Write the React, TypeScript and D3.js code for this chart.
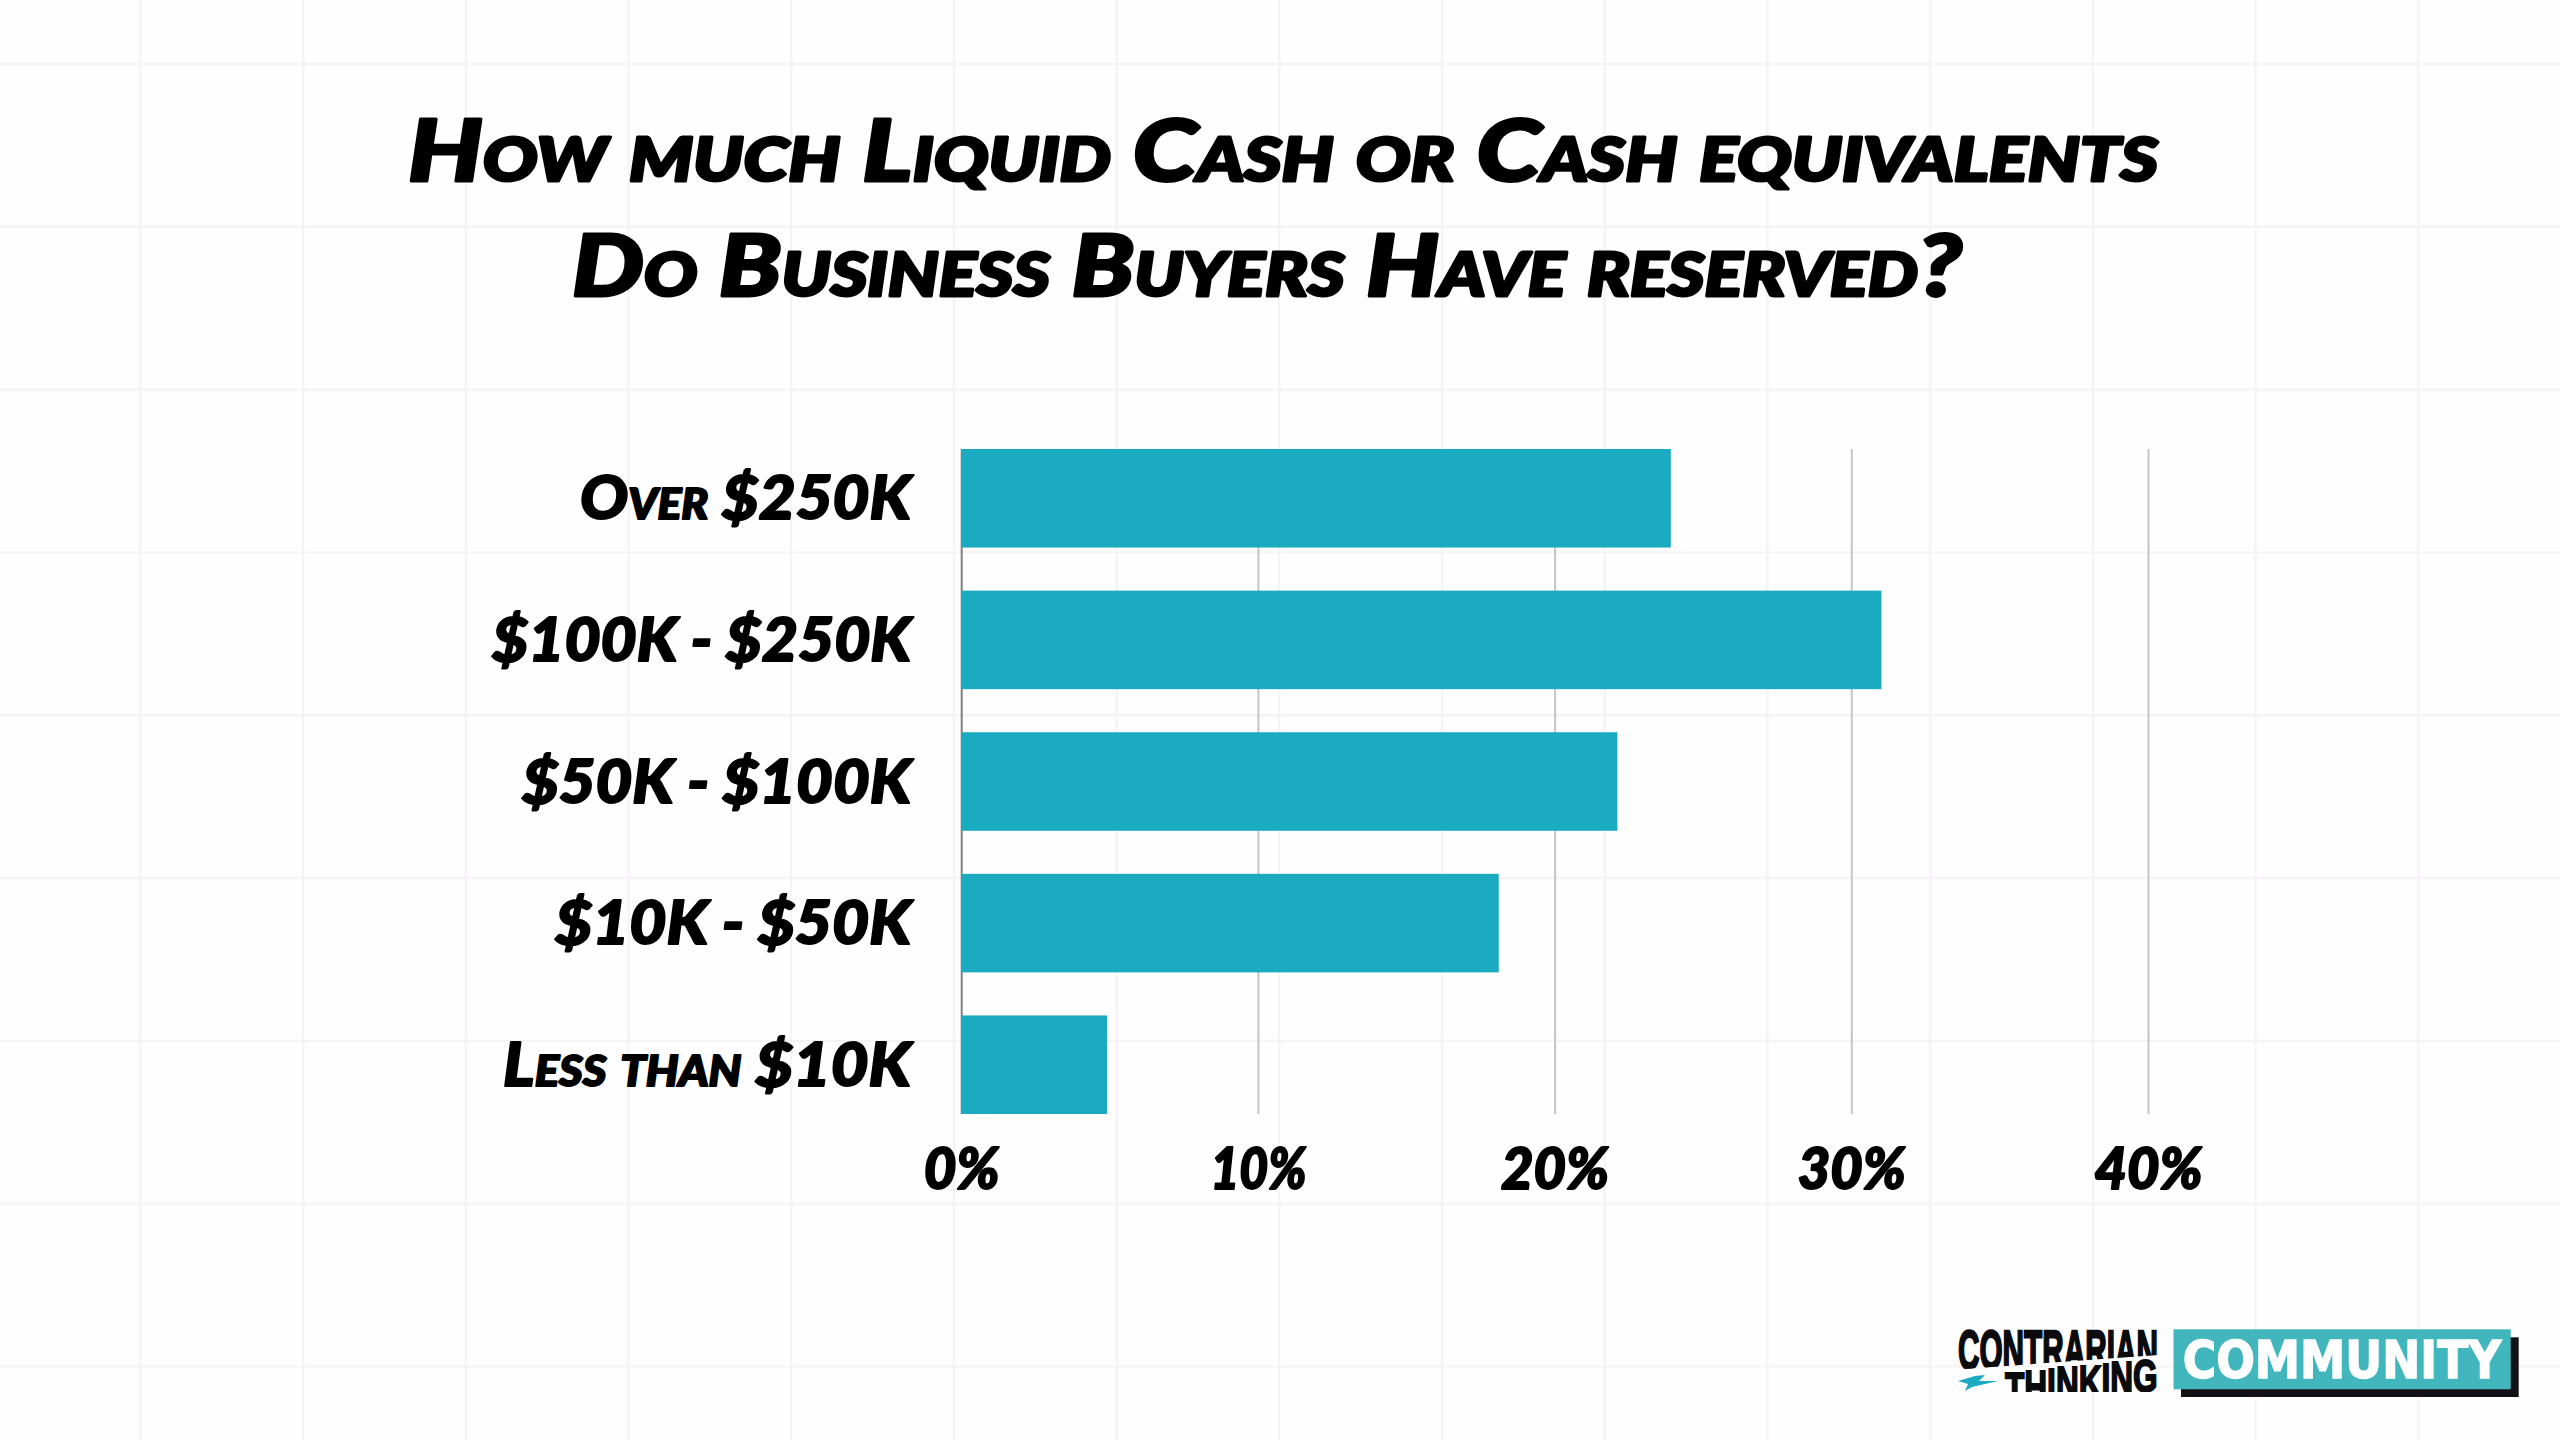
import React from "react";
import * as d3 from "d3";

const titleLines = ["How much Liquid Cash or Cash equivalents", "Do Business Buyers Have reserved?"];
const categories = ["Over $250K", "$100K - $250K", "$50K - $100K", "$10K - $50K", "Less than $10K"];
const values = [23.9, 31, 22.1, 18.1, 4.9];
const ticks = [0, 10, 20, 30, 40];
const logoTop = "CONTRARIAN";
const logoBottom = "THINKING";
const logoBadge = "COMMUNITY";

const W = 2560;
const H = 1440;
const FONT = "Lato, 'Open Sans', sans-serif";
const LOGO_FONT = "'Liberation Sans', sans-serif";
const labelWidths = [331, 419, 389, 356, 408];
const tickWidths = [76, 96, 108, 108, 108];

const x = d3.scaleLinear().domain([0, 40]).range([961.7, 2148.5]);
const y = d3.scaleBand<string>().domain(categories).range([449, 1114]).paddingInner(0.304);

const gridX = d3.range(0, 15).map((k) => 140.5 + 162.7 * k);
const gridY = d3.range(0, 9).map((k) => 64 + 162.8 * k);

const slant = (word: string, from: number, to: number) => {
  const s = d3.scaleLinear().domain([0, word.length - 1]).range([from, to]);
  return word.split("").map((_, i) => s(i).toFixed(1)).join(" ");
};

export default function App() {
  return (
    <svg width={W} height={H} viewBox={`0 0 ${W} ${H}`} style={{ position: "absolute", left: 0, top: 0, display: "block" }}>
      <defs>
        <clipPath id="logo-top">
          <path d="M1950 1325 L2165 1325 L2165 1354.5 L1950 1370 Z" />
        </clipPath>
        <clipPath id="logo-bottom">
          <rect x={2000} y={1350} width={165} height={42} />
        </clipPath>
      </defs>
      <rect width={W} height={H} fill="#fffeff" />
      <g stroke="#f6f3f7" strokeWidth={2.4}>
        {gridX.map((gx) => (
          <line key={gx} x1={gx} x2={gx} y1={0} y2={H} />
        ))}
        {gridY.map((gy) => (
          <line key={gy} x1={0} x2={W} y1={gy} y2={gy} />
        ))}
      </g>

      <g fontFamily={FONT} fontWeight={900} fontStyle="italic" fill="#000" stroke="#000" strokeWidth={3} strokeLinejoin="round" style={{ fontVariant: "small-caps" }}>
        <text x={1283} y={181} fontSize={86} textAnchor="middle" textLength={1750} lengthAdjust="spacingAndGlyphs">
          {titleLines[0]}
        </text>
        <text x={1267} y={296} fontSize={86} textAnchor="middle" textLength={1390} lengthAdjust="spacingAndGlyphs">
          {titleLines[1]}
        </text>
      </g>

      {ticks.map((t) => (
        <line key={t} x1={x(t)} x2={x(t)} y1={449} y2={1114} stroke={t === 0 ? "#808080" : "#c6c4c8"} strokeWidth={2} />
      ))}

      {categories.map((c, i) => (
        <rect key={c} x={x(0)} y={y(c)} width={x(values[i]) - x(0)} height={y.bandwidth()} fill="#1babc1" />
      ))}

      <g fontFamily={FONT} fontWeight={900} fontStyle="italic" fill="#000" stroke="#000" strokeWidth={2} strokeLinejoin="round" style={{ fontVariant: "small-caps" }}>
        {categories.map((c, i) => (
          <text key={c} x={911} y={(y(c) as number) + y.bandwidth() / 2 + 21} fontSize={60} textAnchor="end" textLength={labelWidths[i]} lengthAdjust="spacingAndGlyphs">
            {c}
          </text>
        ))}
      </g>

      <g fontFamily={FONT} fontWeight={900} fontStyle="italic" fill="#000" stroke="#000" strokeWidth={2} strokeLinejoin="round">
        {ticks.map((t, i) => (
          <text key={t} x={x(t)} y={1189} fontSize={58} textAnchor="middle" textLength={tickWidths[i]} lengthAdjust="spacingAndGlyphs">
            {`${t}%`}
          </text>
        ))}
      </g>

      <g>
        <g clipPath="url(#logo-top)">
          <text transform="translate(1958,1369) scale(0.531,1)" fontFamily={LOGO_FONT} fontWeight={700} fontSize={56} fill="#0b0b0d" stroke="#0b0b0d" strokeWidth={2.4}>
            {logoTop}
          </text>
        </g>
        <g clipPath="url(#logo-bottom)">
          <text transform="translate(2005,0) scale(0.672,1)" fontFamily={LOGO_FONT} fontWeight={700} fontSize={47} fill="#0b0b0d" stroke="#0b0b0d" strokeWidth={2}>
            <tspan x={0} y={slant(logoBottom, 1405, 1392)}>{logoBottom}</tspan>
          </text>
        </g>
        <path d="M1958 1381 L1975 1376 L1985 1375 L1979 1381 L1998 1381 L1972 1387 L1965 1391 L1968 1384 Z" fill="#1cabc2" />
        <rect x={2181} y={1337.3} width={337.7} height={59.7} fill="#131115" />
        <rect x={2173.5} y={1329.3} width={337.2} height={60} fill="#41b6bc" />
        <text transform="translate(2342,1378.3) scale(0.875,1)" fontFamily="'DejaVu Sans', sans-serif" fontWeight={700} fontSize={52} textAnchor="middle" fill="#fff" stroke="#fff" strokeWidth={1.5}>
          {logoBadge}
        </text>
      </g>
    </svg>
  );
}
